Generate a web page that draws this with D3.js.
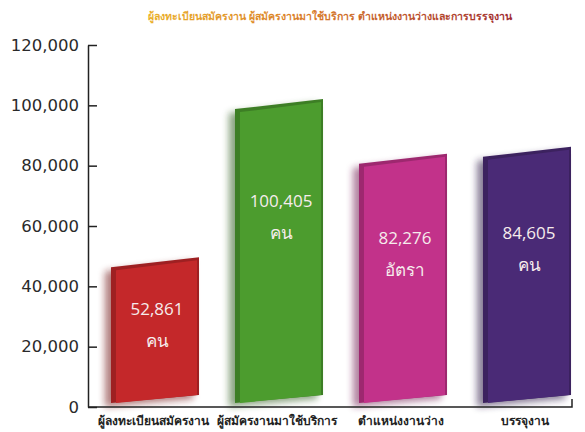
<!DOCTYPE html>
<html>
<head>
<meta charset="UTF-8">
<title></title>
<style>
    body { margin: 0; background: #fff; }
    .axis path, .axis line { stroke: #222; stroke-width: 1.5; }
    .axis text { font-family: 'DejaVu Sans', Verdana, sans-serif; font-size: 16.5px; fill: #2a2a2a; }
    .cat { font-family: 'Noto Sans', 'DejaVu Sans', sans-serif; font-size: 12px; font-weight: bold; fill: #222; text-anchor: middle; }
    .val { font-family: 'Open Sans', 'Noto Sans', sans-serif; font-size: 17px; fill: #f6ecec; text-anchor: middle; }
    .title { font-family: 'Noto Sans', sans-serif; font-size: 10.5px; font-weight: bold; text-anchor: middle; }
</style>
</head>
<body>
<script src="https://d3js.org/d3.v7.min.js"></script>
<script>
    // data
    var categories = ["ผู้ลงทะเบียนสมัครงาน", "ผู้สมัครงานมาใช้บริการ", "ตำแหน่งงานว่าง", "บรรจุงาน"];
    var barValues = [48000, 100405, 82276, 84605];   // heights as drawn in the picture
    var valueLabels = ["52,861", "100,405", "82,276", "84,605"];
    var unitLabels = ["คน", "คน", "อัตรา", "คน"];
    var barColors = ["#c4282a", "#4c9c2e", "#c2328a", "#4a2a76"];
    var yTicks = [0, 20000, 40000, 60000, 80000, 100000, 120000];
    var title = "ผู้ลงทะเบียนสมัครงาน ผู้สมัครงานมาใช้บริการ ตำแหน่งงานว่างและการบรรจุงาน";

    var width = 585, height = 432;
    var svg = d3.select("body").append("svg")
        .attr("width", width)
        .attr("height", height);

    var defs = svg.append("defs");
    defs.append("filter").attr("id", "blur")
        .attr("x", "-30%").attr("y", "-30%").attr("width", "160%").attr("height", "160%")
        .append("feGaussianBlur").attr("stdDeviation", 3.5);
    var grad = defs.append("linearGradient").attr("id", "titlegrad")
        .attr("x1", "0%").attr("x2", "100%");
    grad.append("stop").attr("offset", "0%").attr("stop-color", "#eab02c");
    grad.append("stop").attr("offset", "45%").attr("stop-color", "#d87a2a");
    grad.append("stop").attr("offset", "100%").attr("stop-color", "#a02c30");

    var y = d3.scaleLinear().domain([0, 120000]).range([407, 45]);
    var x = d3.scaleBand().domain(categories)
        .range([93, 589])
        .paddingInner(0.29)
        .paddingOuter(0.145);

    var axisX = 88, y0 = y(0), slant = 10;

    // title
    svg.append("text").attr("class", "title")
        .attr("x", 330).attr("y", 20)
        .attr("fill", "url(#titlegrad)")
        .text(title);

    // bars
    var bars = svg.append("g").selectAll("g")
        .data(categories)
        .enter().append("g");

    function face(d, i, dl, dr, dt) {
        var x0 = x(d) + dl, x1 = x(d) + x.bandwidth() - dr, yv = y(barValues[i]);
        return [
            [x0, yv + slant / 2 + dt], [x1, yv - slant / 2 + dt],
            [x1, y0 - 12], [x0, y0 - 4]
        ].join(" ");
    }

    bars.append("polygon")
        .attr("points", function(d, i) { return face(d, i, 0, 0, 0); })
        .attr("transform", "translate(-6,4)")
        .attr("fill", function(d, i) { return d3.color(barColors[i]).darker(1.5); })
        .attr("opacity", 0.55)
        .attr("filter", "url(#blur)");

    bars.append("polygon")
        .attr("points", function(d, i) { return face(d, i, 0, 0, 0); })
        .attr("fill", function(d, i) { return d3.color(barColors[i]).darker(0.6); });

    bars.append("polygon")
        .attr("points", function(d, i) { return face(d, i, 5, 2, 3); })
        .attr("fill", function(d, i) { return barColors[i]; });

    // value labels
    bars.each(function(d, i) {
        var g = d3.select(this);
        var cy = y(barValues[i] * 0.68);
        var cx = x(d) + x.bandwidth() / 2 + 2;
        g.append("text").attr("class", "val")
            .attr("x", cx).attr("y", cy + 6)
            .text(valueLabels[i]);
        g.append("text").attr("class", "val")
            .attr("x", cx).attr("y", cy + 38)
            .text(unitLabels[i]);
    });

    // y axis
    var yAxis = d3.axisLeft(y)
        .tickValues(yTicks)
        .tickFormat(d3.format(","))
        .tickSizeInner(-9)
        .tickSizeOuter(0)
        .tickPadding(9);

    svg.append("g").attr("class", "axis")
        .attr("transform", "translate(" + axisX + ",0)")
        .call(yAxis);

    // x baseline with end tick
    svg.append("path")
        .attr("d", "M" + axisX + "," + y0 + "H572V" + (y0 - 8))
        .attr("fill", "none")
        .attr("stroke", "#222")
        .attr("stroke-width", 1.5);

    // category labels
    svg.append("g").selectAll("text")
        .data(categories)
        .enter().append("text")
        .attr("class", "cat")
        .attr("x", function(d) { return x(d) + x.bandwidth() / 2 - 2; })
        .attr("y", 425)
        .text(function(d) { return d; });
</script>
</body>
</html>
